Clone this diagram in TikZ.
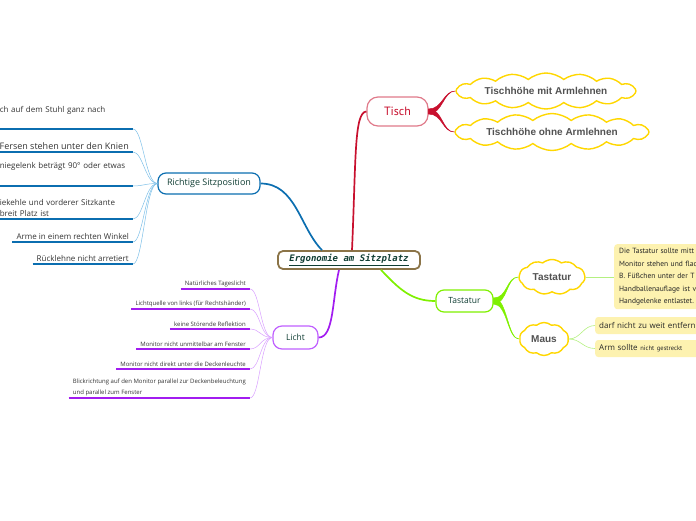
\documentclass[tikz,border=0pt]{standalone}
\usepackage{fontspec}
\setmainfont{Open Sans}
\newfontfamily\cloudfont{Liberation Sans}
\newfontfamily\ergofont{DejaVu Sans Mono}
\newfontfamily\handfont{PT Sans}
\usetikzlibrary{shapes.symbols,calc}

\definecolor{tischred}{HTML}{C8102E}
\definecolor{tischrim}{HTML}{E07A8A}
\definecolor{sitzdark}{HTML}{0B6EB0}
\definecolor{sitzlight}{HTML}{7EC0E8}
\definecolor{lichtdark}{HTML}{A21CF0}
\definecolor{lichtrim}{HTML}{C060FF}
\definecolor{lichtlight}{HTML}{D9A0FF}
\definecolor{tastgreen}{HTML}{7FF000}
\definecolor{tastlight}{HTML}{B4F080}
\definecolor{cloudyellow}{HTML}{FFD700}
\definecolor{notefill}{HTML}{FDF2B0}
\definecolor{labeltext}{HTML}{0F3D33}
\definecolor{ergobrown}{HTML}{8B7448}

\begin{document}
\begin{tikzpicture}[x=1pt,y=-1pt,
  topic/.style={draw,fill=white,line width=1.2pt,rounded corners=8pt,text=labeltext,font=\fontsize{8.5}{9}\selectfont},
  puff/.style={cloud,cloud puffs=16,cloud puff arc=80,cloud ignores aspect,inner sep=0pt,draw=cloudyellow,line width=1.4pt,fill=white,text=black!68,font=\cloudfont\bfseries\fontsize{10}{11}\selectfont},
  sitzitem/.style={anchor=south east,inner xsep=4pt,inner ysep=2pt,text=black!80,font=\fontsize{8}{11}\selectfont},
  lichtitem/.style={anchor=south east,inner xsep=4pt,inner ysep=2pt,text=black!80,font=\fontsize{6}{10.5}\selectfont,align=left},
  notebox/.style={fill=notefill,rounded corners=3pt,anchor=west,align=left,text=black!85},
  sitzline/.style={draw=sitzdark,line width=1.1pt},
  lichtline/.style={draw=lichtdark,line width=1.1pt},
  sitzfan/.style={draw=sitzlight,line width=0.5pt},
  lichtfan/.style={draw=lichtlight,line width=0.5pt},
  mainbranch/.style={line width=1.7pt}
]
\useasboundingbox (0,0) rectangle (696,520);

% Zentrum
\node[draw=ergobrown,line width=1.8pt,rounded corners=5pt,fill=white,
  minimum width=142pt,minimum height=18pt,text=labeltext] (ergo) at (349,260)
  {\ergofont\itshape\bfseries\fontsize{9}{10}\selectfont\underline{Ergonomie am Sitzplatz}};

% Tisch
\node[topic,draw=tischrim,text=tischred,minimum width=61pt,minimum height=29pt,
  rounded corners=11pt,font=\handfont\fontsize{12}{13}\selectfont] (tisch) at (397.5,111.5) {Tisch};
\node[puff,minimum width=180pt,minimum height=36pt] (mitarm) at (546,91) {Tischhöhe mit Armlehnen};
\node[puff,minimum width=194pt,minimum height=37pt] (ohnearm) at (552,132) {Tischhöhe ohne Armlehnen};

\draw[mainbranch,tischred] ($(ergo.north)+(3,0)$) .. controls (356,160) and (354,112) .. (tisch.west);
\filldraw[tischred,line width=0.5pt] ($(tisch.east)+(0,-2.5)$) .. controls +(14,0) and +(-12,0) .. (mitarm.west)
  .. controls +(-12,0) and +(14,0) .. ($(tisch.east)+(0,2.5)$) -- cycle;
\filldraw[tischred,line width=0.5pt] ($(tisch.east)+(0,-2.5)$) .. controls +(14,0) and +(-12,0) .. (ohnearm.west)
  .. controls +(-12,0) and +(14,0) .. ($(tisch.east)+(0,2.5)$) -- cycle;

% Richtige Sitzposition
\node[topic,draw=sitzdark,minimum width=102pt,minimum height=21pt,font=\fontsize{9}{10}\selectfont] (sitz) at (209,183.5) {Richtige Sitzposition};

\draw[mainbranch,sitzdark] ($(ergo.north)+(-27,0)$) .. controls (300,228) and (296,183.5) .. (sitz.east);

\node[sitzitem,text width=129pt,align=left,text depth=14.5pt] (s1) at (133,129) {ch auf dem Stuhl ganz nach};
\node[sitzitem,font=\fontsize{9}{10}\selectfont] (s2) at (133,152) {Fersen stehen unter den Knien};
\node[sitzitem,text width=129pt,align=left,text depth=15.5pt] (s3) at (133,186) {niegelenk beträgt 90° oder etwas};
\node[sitzitem,text width=129pt,align=left] (s4) at (133,219) {iekehle und vorderer Sitzkante\\breit Platz ist};
\node[sitzitem] (s5) at (133,242) {Arme in einem rechten Winkel};
\node[sitzitem] (s6) at (133,264) {Rücklehne nicht arretiert};

\draw[sitzline] (s1.south west) -- (s1.south east);
\draw[sitzline] (s2.south west) -- (s2.south east);
\draw[sitzline] (s3.south west) -- (s3.south east);
\draw[sitzline] (s4.south west) -- (s4.south east);
\draw[sitzline] (s5.south west) -- (s5.south east);
\draw[sitzline] (s6.south west) -- (s6.south east);

\draw[sitzfan] (s1.south east) .. controls +(10,0) and +(-12,0) .. (sitz.west);
\draw[sitzfan] (s2.south east) .. controls +(10,0) and +(-12,0) .. (sitz.west);
\draw[sitzfan] (s3.south east) .. controls +(10,0) and +(-12,0) .. (sitz.west);
\draw[sitzfan] (s4.south east) .. controls +(10,0) and +(-12,0) .. (sitz.west);
\draw[sitzfan] (s5.south east) .. controls +(10,0) and +(-12,0) .. (sitz.west);
\draw[sitzfan] (s6.south east) .. controls +(10,0) and +(-12,0) .. (sitz.west);

% Licht
\node[topic,draw=lichtrim,minimum width=45pt,minimum height=23pt,rounded corners=9pt] (licht) at (295.5,337.5) {Licht};

\draw[mainbranch,lichtdark] ($(ergo.south)+(-10,0)$) .. controls (332,300) and (334,337.5) .. (licht.east);

\node[lichtitem] (l1) at (250,289) {Natürliches Tageslicht};
\node[lichtitem] (l2) at (250,309) {Lichtquelle von links (für Rechtshänder)};
\node[lichtitem] (l3) at (250,329) {keine Störende Reflektion};
\node[lichtitem] (l4) at (250,349) {Monitor nicht unmittelbar am Fenster};
\node[lichtitem] (l5) at (250,369) {Monitor nicht direkt unter die Deckenleuchte};
\node[lichtitem] (l6) at (250,398) {Blickrichtung auf den Monitor parallel zur Deckenbeleuchtung\\und parallel zum Fenster};

\draw[lichtline] (l1.south west) -- (l1.south east);
\draw[lichtline] (l2.south west) -- (l2.south east);
\draw[lichtline] (l3.south west) -- (l3.south east);
\draw[lichtline] (l4.south west) -- (l4.south east);
\draw[lichtline] (l5.south west) -- (l5.south east);
\draw[lichtline] (l6.south west) -- (l6.south east);

\draw[lichtfan] (l1.south east) .. controls +(10,0) and +(-12,0) .. (licht.west);
\draw[lichtfan] (l2.south east) .. controls +(10,0) and +(-12,0) .. (licht.west);
\draw[lichtfan] (l3.south east) .. controls +(10,0) and +(-12,0) .. (licht.west);
\draw[lichtfan] (l4.south east) .. controls +(10,0) and +(-12,0) .. (licht.west);
\draw[lichtfan] (l5.south east) .. controls +(10,0) and +(-12,0) .. (licht.west);
\draw[lichtfan] (l6.south east) .. controls +(10,0) and +(-12,0) .. (licht.west);

% Tastatur
\node[topic,draw=tastgreen,minimum width=57pt,minimum height=22pt] (tast) at (464.5,301) {Tastatur};
\node[puff,cloud puffs=11,minimum width=66pt,minimum height=35pt] (tastwolke) at (552,277) {Tastatur};
\node[puff,cloud puffs=10,minimum width=49pt,minimum height=33pt] (maus) at (544,339) {Maus};

\draw[mainbranch,tastgreen] ($(ergo.south)+(32,0)$) .. controls (400,290) and (412,301) .. (tast.west);
\filldraw[tastgreen,line width=0.5pt] ($(tast.east)+(0,-3)$) .. controls +(14,0) and +(-12,0) .. (tastwolke.west)
  .. controls +(-12,0) and +(14,0) .. ($(tast.east)+(0,3)$) -- cycle;
\filldraw[tastgreen,line width=0.5pt] ($(tast.east)+(0,-3)$) .. controls +(14,0) and +(-12,0) .. (maus.west)
  .. controls +(-12,0) and +(14,0) .. ($(tast.east)+(0,3)$) -- cycle;

\node[notebox,anchor=north west,text width=100pt,minimum height=65pt,inner xsep=5pt,
  font=\handfont\fontsize{7.5}{12.5}\selectfont] (tastnotiz) at (614,244)
  {Die Tastatur sollte mitt\\Monitor stehen und flach\\B. Füßchen unter der T\\Handballenauflage ist vo\\Handgelenke entlastet.};
\node[notebox,text width=110pt,minimum height=17pt,inner xsep=4pt,font=\fontsize{8}{9}\selectfont] (maus1) at (595,325.5) {darf nicht zu weit entfern};
\node[notebox,text width=110pt,minimum height=17pt,inner xsep=4pt,font=\fontsize{8}{9}\selectfont] (maus2) at (595,348.5)
  {Arm sollte {\handfont\fontsize{6.5}{7}\selectfont nicht gestreckt}};

\draw[tastlight,line width=0.6pt] (tastwolke.east) -- (tastnotiz.west |- tastwolke.east);
\draw[tastlight,line width=0.6pt] (maus.east) .. controls +(12,0) and +(-12,0) .. (maus1.west);
\draw[tastlight,line width=0.6pt] (maus.east) .. controls +(12,0) and +(-12,0) .. (maus2.west);

\end{tikzpicture}
\end{document}
